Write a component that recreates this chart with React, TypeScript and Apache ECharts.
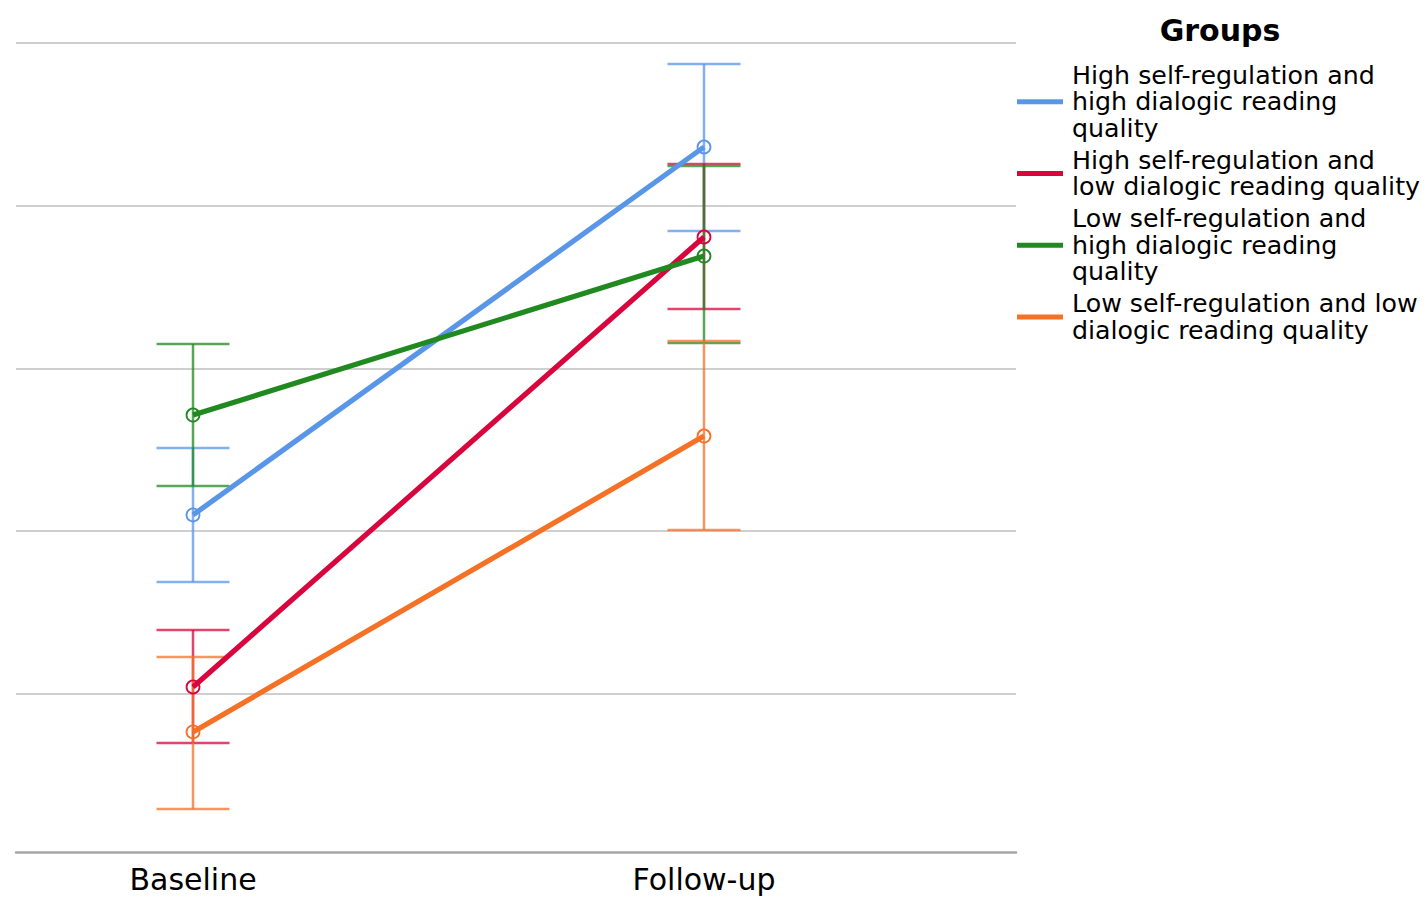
import React, { useEffect, useRef } from "react";
import * as echarts from "echarts";

// ---- data ----
const timePoints = ["Baseline", "Follow-up"];
const timeValues = [0, 1];
const groupNames = [
  "High self-regulation and\nhigh dialogic reading\nquality",
  "High self-regulation and\nlow dialogic reading quality",
  "Low self-regulation and\nhigh dialogic reading\nquality",
  "Low self-regulation and low\ndialogic reading quality",
];
const groupColors = ["#5a96e8", "#d8063d", "#208a20", "#f47125"];
// means [baseline, follow-up]
const meanHighHigh = [2.1, 4.361];
const meanHighLow = [1.043, 3.808];
const meanLowHigh = [2.714, 3.691];
const meanLowLow = [0.767, 2.585];
// error bar lower / upper bounds [baseline, follow-up]
const lowerHighHigh = [1.688, 3.845];
const upperHighHigh = [2.512, 4.871];
const lowerHighLow = [0.699, 3.366];
const upperHighLow = [1.393, 4.257];
const lowerLowHigh = [2.278, 3.157];
const upperLowHigh = [3.151, 4.244];
const lowerLowLow = [0.293, 2.008];
const upperLowLow = [1.227, 3.169];
const gridValues = [1, 2, 3, 4, 5];

const means = [meanHighHigh, meanHighLow, meanLowHigh, meanLowLow];
const lowers = [lowerHighHigh, lowerHighLow, lowerLowHigh, lowerLowLow];
const uppers = [upperHighHigh, upperHighLow, upperLowHigh, upperLowLow];

const FONT = "DejaVu Sans";

export default function App() {
  const ref = useRef<HTMLDivElement>(null);
  useEffect(() => {
    if (!ref.current) return;
    const chart = echarts.init(ref.current, null, { renderer: "svg" });

    const errorSeries = groupNames.map((name, gi) => ({
      type: "custom",
      name: name,
      z: 1,
      silent: true,
      data: timeValues.map((t, i) => [t, lowers[gi][i], uppers[gi][i]]),
      encode: { x: 0, y: [1, 2] },
      renderItem: (params: any, api: any) => {
        const x = api.value(0);
        const lo = api.coord([x, api.value(1)]);
        const hi = api.coord([x, api.value(2)]);
        const hw = 36.5;
        const style = { stroke: groupColors[gi], lineWidth: 2.5, opacity: 0.75 };
        return {
          type: "group",
          children: [
            { type: "line", shape: { x1: lo[0], y1: lo[1], x2: hi[0], y2: hi[1] }, style },
            { type: "line", shape: { x1: lo[0] - hw, y1: lo[1], x2: lo[0] + hw, y2: lo[1] }, style },
            { type: "line", shape: { x1: hi[0] - hw, y1: hi[1], x2: hi[0] + hw, y2: hi[1] }, style },
          ],
        };
      },
      ...(gi === 0
        ? {
            markLine: {
              silent: true,
              symbol: ["none", "none"],
              label: { show: false },
              lineStyle: { color: "#cfcfcf", width: 2, type: "solid" },
              z: 0,
              data: gridValues.map((v) => ({ yAxis: v })),
            },
          }
        : {}),
    }));

    const lineSeries = groupNames.map((name, gi) => ({
      type: "line",
      name: name,
      z: 3,
      data: timeValues.map((t, i) => [t, means[gi][i]]),
      symbol: "circle",
      symbolSize: 13,
      itemStyle: { color: "transparent", borderColor: groupColors[gi], borderWidth: 1.8 },
      lineStyle: { color: groupColors[gi], width: 5.2 },
      emphasis: { disabled: true },
    }));

    chart.setOption({
      animation: false,
      backgroundColor: "#ffffff",
      grid: { left: 16, right: 412, top: 43, bottom: 45 },
      xAxis: {
        type: "value",
        min: -0.3464,
        max: 1.6106,
        splitLine: { show: false },
        axisTick: { show: false },
        axisLine: { show: true, lineStyle: { color: "#a6a6a6", width: 2.5 } },
        axisLabel: {
          customValues: timeValues,
          formatter: (v: number) => timePoints[Math.round(v)] ?? "",
          fontSize: 30,
          fontFamily: FONT,
          color: "#000",
          margin: 12,
        },
      },
      yAxis: {
        type: "value",
        min: 0.029,
        max: 5,
        show: false,
        splitLine: { show: false },
      },
      legend: {
        orient: "vertical",
        left: 1017,
        top: 62,
        padding: 0,
        icon: "rect",
        itemWidth: 46,
        itemHeight: 5,
        itemGap: 5.5,
        selectedMode: false,
        textStyle: { fontSize: 25.3, lineHeight: 26.5, color: "#000", fontFamily: FONT, padding: [0, 0, 0, 4] },
        data: groupNames.map((n, gi) => ({ name: n, itemStyle: { color: groupColors[gi], borderWidth: 0 } })),
      },
      graphic: [
        {
          type: "text",
          x: 1220,
          y: 30,
          style: {
            text: "Groups",
            align: "center",
            verticalAlign: "middle",
            fontSize: 30,
            fontWeight: "bold",
            fontFamily: FONT,
            fill: "#000",
          },
        },
      ],
      series: [...errorSeries, ...lineSeries],
    });
    return () => chart.dispose();
  }, []);
  return <div ref={ref} style={{ position: "fixed", left: 0, top: 0, width: 1428, height: 897 }} />;
}
